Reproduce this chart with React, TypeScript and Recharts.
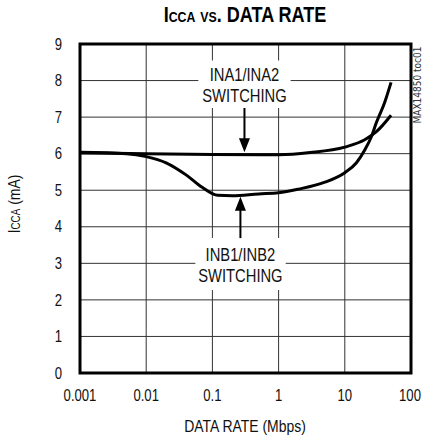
import React from "react";
import {
  LineChart,
  Line,
  XAxis,
  YAxis,
  CartesianGrid,
  ReferenceArea,
  ReferenceLine,
  ReferenceDot,
} from "recharts";

// data rate (Mbps) and supply current (mA)
const rateA = [0.001, 0.01, 0.1, 1, 3, 10, 20, 30, 50];
const iccA = [6.02, 6.0, 5.98, 5.97, 6.03, 6.18, 6.38, 6.6, 7.05];

const rateB = [0.001, 0.005, 0.01, 0.02, 0.04, 0.07, 0.12, 0.2, 0.5, 1, 2, 5, 10, 15, 20, 25, 30, 40, 50];
const iccB = [6.04, 6.0, 5.92, 5.75, 5.42, 5.08, 4.86, 4.85, 4.9, 4.93, 5.03, 5.22, 5.48, 5.75, 6.1, 6.45, 6.85, 7.4, 7.95];

const rateTicks = [0.001, 0.01, 0.1, 1, 10, 100];
const iccTicks = [0, 1, 2, 3, 4, 5, 6, 7, 8, 9];

const labelA = ["INA1/INA2", "SWITCHING"];
const labelB = ["INB1/INB2", "SWITCHING"];

// no narrow face installed, so squeeze Liberation Sans horizontally
const FONT = "'Liberation Sans', Arial, sans-serif";
const SQ = 0.82;

const seriesA = rateA.map((x, i) => ({ x, y: iccA[i] }));
const seriesB = rateB.map((x, i) => ({ x, y: iccB[i] }));

const XTick = (p: any) => (
  <g transform={`translate(${p.x},${p.y})`}>
    <text transform={`scale(${SQ},1)`} textAnchor="middle" dy="0.71em" fontSize={16} fill="#111">
      {String(p.payload.value)}
    </text>
  </g>
);

const YTick = (p: any) => (
  <g transform={`translate(${p.x},${p.y})`}>
    <text transform={`scale(${SQ},1)`} textAnchor="end" dy="0.355em" fontSize={16} fill="#111">
      {p.payload.value}
    </text>
  </g>
);

const twoLines = (lines: string[]) => (props: any) => (
  <g>
    {lines.map((t, i) => (
      <text
        key={t + i}
        transform={`translate(${props.cx},${props.cy + (i === 0 ? -10 : 11)}) scale(${SQ},1)`}
        textAnchor="middle"
        dominantBaseline="central"
        fontSize={18}
        fill="#111"
      >
        {t}
      </text>
    ))}
  </g>
);

const arrowHead = (down: boolean) => (props: any) => {
  const { cx, cy } = props;
  const b = down ? cy - 14 : cy + 14;
  return <polygon points={`${cx},${cy} ${cx - 5.5},${b} ${cx + 5.5},${b}`} fill="#000" />;
};

export default function App() {
  return (
    <div style={{ position: "absolute", left: 0, top: 0, width: 422, height: 436, background: "#fff", fontFamily: FONT }}>
      <LineChart width={422} height={436} margin={{ top: 44, right: 11, bottom: 0, left: 0 }}>
        <CartesianGrid stroke="#333" strokeWidth={1} />
        <XAxis
          dataKey="x"
          type="number"
          scale="log"
          domain={[0.001, 100]}
          ticks={rateTicks}
          allowDataOverflow
          height={63}
          tickSize={0}
          tickMargin={17}
          axisLine={false}
          tick={<XTick />}
        />
        <YAxis
          type="number"
          domain={[0, 9]}
          ticks={iccTicks}
          width={80}
          tickSize={0}
          tickMargin={18}
          axisLine={false}
          tick={<YTick />}
        />
        <ReferenceArea x1={0.0613} x2={1.52} y1={7.25} y2={8.55} fill="#fff" fillOpacity={1} stroke="none" />
        <ReferenceArea x1={0.0553} x2={1.28} y1={2.27} y2={3.69} fill="#fff" fillOpacity={1} stroke="none" />
        <ReferenceArea x1={0.001} x2={100} y1={0} y2={9} fill="none" stroke="#000" strokeWidth={3} ifOverflow="visible" />
        <ReferenceLine segment={[{ x: 0.305, y: 7.25 }, { x: 0.305, y: 6.3 }]} stroke="#000" strokeWidth={2} />
        <ReferenceLine segment={[{ x: 0.265, y: 3.69 }, { x: 0.265, y: 4.5 }]} stroke="#000" strokeWidth={2} />
        <ReferenceDot x={0.305} y={6.04} r={1} shape={arrowHead(true)} ifOverflow="visible" />
        <ReferenceDot x={0.265} y={4.82} r={1} shape={arrowHead(false)} ifOverflow="visible" />
        <ReferenceDot x={0.305} y={7.9} r={1} shape={twoLines(labelA)} ifOverflow="visible" />
        <ReferenceDot x={0.265} y={2.98} r={1} shape={twoLines(labelB)} ifOverflow="visible" />
        <Line data={seriesA} dataKey="y" type="monotone" stroke="#000" strokeWidth={3} dot={false} isAnimationActive={false} />
        <Line data={seriesB} dataKey="y" type="monotone" stroke="#000" strokeWidth={3} dot={false} isAnimationActive={false} />
      </LineChart>
      <div
        style={{
          position: "absolute",
          left: 245,
          top: 3,
          transform: `translateX(-50%) scaleX(${SQ})`,
          whiteSpace: "nowrap",
          fontWeight: 700,
          fontSize: 22,
          lineHeight: "24px",
          color: "#000",
        }}
      >
        I<span style={{ fontSize: 15 }}>CCA</span> <span style={{ fontVariant: "small-caps" }}>vs.</span> DATA RATE
      </div>
      <div
        style={{
          position: "absolute",
          left: 245,
          top: 417,
          transform: `translateX(-50%) scaleX(${SQ})`,
          whiteSpace: "nowrap",
          fontSize: 17,
          lineHeight: "20px",
          color: "#111",
        }}
      >
        DATA RATE (Mbps)
      </div>
      <div
        style={{
          position: "absolute",
          left: 15,
          top: 204,
          transform: `translate(-50%, -50%) rotate(-90deg) scaleX(${SQ})`,
          whiteSpace: "nowrap",
          fontSize: 17,
          color: "#111",
        }}
      >
        I<span style={{ fontSize: 12 }}>CCA</span> (mA)
      </div>
      <div
        style={{
          position: "absolute",
          left: 417,
          top: 85,
          transform: "translate(-50%, -50%) rotate(-90deg)",
          whiteSpace: "nowrap",
          fontFamily: "'DejaVu Sans Condensed', sans-serif",
          fontSize: 10,
          color: "#333",
        }}
      >
        MAX14850 toc01
      </div>
    </div>
  );
}
